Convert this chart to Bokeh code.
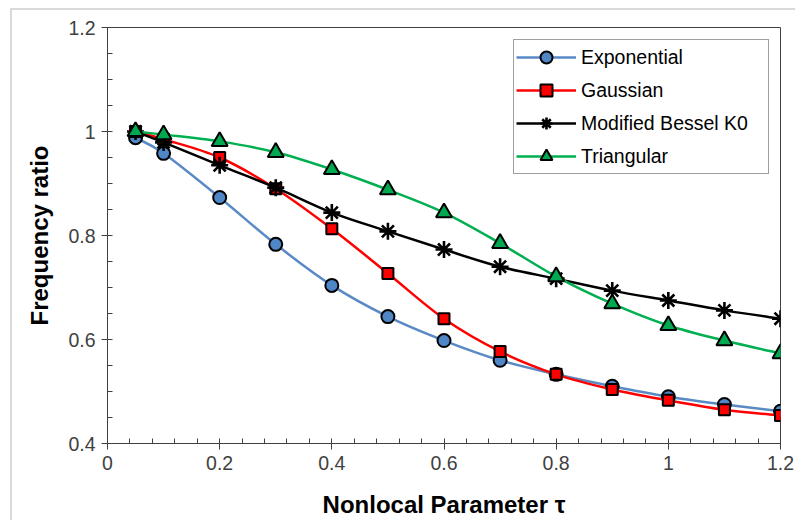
from bokeh.plotting import figure
from bokeh.models import Range1d, FixedTicker, Legend, LegendItem
from bokeh.embed import file_html
from bokeh.resources import INLINE

# ---- data ----
tau = [0.05, 0.1, 0.2, 0.3, 0.4, 0.5, 0.6, 0.7, 0.8, 0.9, 1.0, 1.1, 1.2]
exponential = [0.988, 0.958, 0.873, 0.783, 0.704, 0.644, 0.598, 0.560, 0.533, 0.510, 0.490, 0.475, 0.462]
gaussian = [1.000, 0.985, 0.950, 0.890, 0.813, 0.727, 0.640, 0.577, 0.533, 0.504, 0.483, 0.465, 0.454]
bessel_k0 = [1.000, 0.979, 0.935, 0.892, 0.844, 0.808, 0.773, 0.740, 0.717, 0.694, 0.675, 0.656, 0.640]
triangular = [1.000, 0.994, 0.981, 0.960, 0.927, 0.888, 0.844, 0.785, 0.721, 0.669, 0.627, 0.598, 0.573]

x_ticks = [0, 0.2, 0.4, 0.6, 0.8, 1.0, 1.2]
x_tick_labels = ["0", "0.2", "0.4", "0.6", "0.8", "1", "1.2"]
y_ticks = [0.4, 0.6, 0.8, 1.0, 1.2]
y_tick_labels = ["0.4", "0.6", "0.8", "1", "1.2"]

series_names = ["Exponential", "Gaussian", "Modified Bessel K0", "Triangular"]

FONT = "Liberation Sans"
AXIS_COLOR = "#404040"


def smooth_segments(xs, ys):
    """Catmull-Rom style (Excel 'smoothed line') Bezier segments through the data points."""
    n = len(xs)
    x0, y0, x1, y1, cx0, cy0, cx1, cy1 = [], [], [], [], [], [], [], []
    for i in range(n - 1):
        pa = i - 1 if i > 0 else i
        pd = i + 2 if i + 2 < n else i + 1
        x0.append(xs[i]); y0.append(ys[i])
        x1.append(xs[i + 1]); y1.append(ys[i + 1])
        cx0.append(xs[i] + (xs[i + 1] - xs[pa]) / 6.0)
        cy0.append(ys[i] + (ys[i + 1] - ys[pa]) / 6.0)
        cx1.append(xs[i + 1] - (xs[pd] - xs[i]) / 6.0)
        cy1.append(ys[i + 1] - (ys[pd] - ys[i]) / 6.0)
    return dict(x0=x0, y0=y0, x1=x1, y1=y1, cx0=cx0, cy0=cy0, cx1=cx1, cy1=cy1)


p = figure(width=785, height=512, output_backend="svg", toolbar_location=None,
           x_range=Range1d(0, 1.2), y_range=Range1d(0.4, 1.2),
           min_border_left=95, min_border_right=17, min_border_top=17, min_border_bottom=79,
           background_fill_color="white", border_fill_color="white")
p.margin = (8, 0, 0, 10)
p.styles = {"border-left": "2px solid #d9d9d9", "border-top": "2px solid #d9d9d9"}

p.xgrid.visible = False
p.ygrid.visible = False
p.outline_line_color = AXIS_COLOR
p.outline_line_width = 1

x_minor = [round(i * 0.04, 4) for i in range(0, 31)]
y_minor = [round(0.4 + i * 0.05, 4) for i in range(0, 17)]
p.xaxis.ticker = FixedTicker(ticks=x_ticks, minor_ticks=x_minor)
p.yaxis.ticker = FixedTicker(ticks=y_ticks, minor_ticks=y_minor)
p.xaxis.major_label_overrides = {t: l for t, l in zip(x_ticks, x_tick_labels)}
p.yaxis.major_label_overrides = {t: l for t, l in zip(y_ticks, y_tick_labels)}

for ax in (p.xaxis[0], p.yaxis[0]):
    ax.axis_line_color = AXIS_COLOR
    ax.axis_line_width = 1
    ax.major_tick_line_color = AXIS_COLOR
    ax.minor_tick_line_color = AXIS_COLOR
    ax.major_tick_out = 6
    ax.major_tick_in = 0
    ax.minor_tick_out = 0
    ax.minor_tick_in = 5
    ax.major_label_text_font = FONT
    ax.major_label_text_font_size = "19.5px"
    ax.major_label_text_color = "#404040"
    ax.axis_label_text_font = FONT
    ax.axis_label_text_font_size = "24px"
    ax.axis_label_text_font_style = "bold"
    ax.axis_label_text_color = "black"

p.xaxis.axis_label = "Nonlocal Parameter \u03c4"
p.yaxis.axis_label = "Frequency ratio"
p.xaxis.major_label_standoff = 6
p.yaxis.major_label_standoff = 6
p.xaxis.axis_label_standoff = 18
p.yaxis.axis_label_standoff = 12

series = [
    (series_names[0], exponential, "#5a8ac6", dict(marker="circle", size=13, fill_color="#4f86c6", line_color="black", line_width=2)),
    (series_names[1], gaussian, "#ff0000", dict(marker="square", size=11, fill_color="#ff0000", line_color="black", line_width=2)),
    (series_names[2], bessel_k0, "black", dict(marker="asterisk", size=17, line_color="black", line_width=2.6)),
    (series_names[3], triangular, "#00b050", dict(marker="triangle", size=16, fill_color="#00a84f", line_color="black", line_width=2)),
]

items = []
for name, vals, color, mk in series:
    seg = smooth_segments(tau, vals)
    b = p.bezier(x0="x0", y0="y0", x1="x1", y1="y1", cx0="cx0", cy0="cy0", cx1="cx1", cy1="cy1",
                 source=seg, line_color=color, line_width=2.5)
    # invisible line used only for the legend glyph
    lg = p.line(tau, vals, line_color=color, line_width=2.5, visible=False)
    m = p.scatter(tau, vals, **mk)
    items.append(LegendItem(label=name, renderers=[lg, m]))

legend = Legend(items=items, location=(406, 269))
legend.label_text_font = FONT
legend.label_text_font_size = "19.5px"
legend.label_text_color = "black"
legend.padding = 2
legend.spacing = 3
legend.label_height = 30
legend.glyph_height = 30
legend.glyph_width = 60
legend.label_standoff = 5
legend.label_width = 185
legend.border_line_color = AXIS_COLOR
legend.border_line_width = 1
legend.background_fill_color = "white"
legend.background_fill_alpha = 1
legend.margin = 0
p.add_layout(legend, "center")

open("out.html", "w").write(file_html(p, INLINE))
